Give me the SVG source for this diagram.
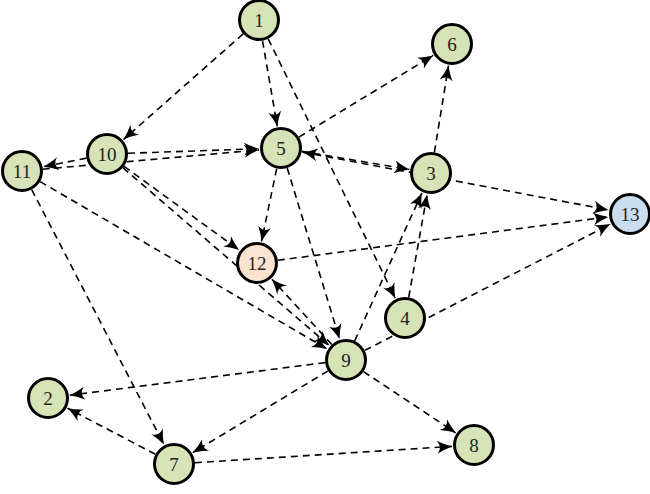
<svg xmlns="http://www.w3.org/2000/svg" width="650" height="494" viewBox="0 0 650 494">
<style>
.e{stroke:#000;stroke-width:1.6;stroke-dasharray:7,5;fill:none;marker-end:url(#ah)}
.n circle{stroke:#000;stroke-width:3;fill:#d5e3b6}
.n text{font-family:"Liberation Serif","DejaVu Serif",serif;font-size:19px;text-anchor:middle;dominant-baseline:central;fill:#222}
</style>
<defs>
<marker id="ah" markerUnits="userSpaceOnUse" markerWidth="18" markerHeight="14" refX="15" refY="7" orient="auto-start-reverse">
<path d="M0,0.5 Q7,4.5 15,7 Q7,9.5 0,13.5 Q6,7 0,0.5 z" fill="#000"/>
</marker>
</defs>
<g id="edges">
<line class="e" x1="243.2" y1="33.9" x2="123.5" y2="139.5"/>
<line class="e" x1="262.5" y1="40.7" x2="277.3" y2="126.3"/>
<line class="e" x1="268.2" y1="38.9" x2="395.3" y2="298.2"/>
<line class="e" x1="128" y1="153.3" x2="259" y2="148.7"/>
<line class="e" x1="86.4" y1="158.1" x2="43.6" y2="166.7"/>
<line class="e" x1="42.9" y1="169.2" x2="259.1" y2="149.9"/>
<line class="e" x1="298.9" y1="137.1" x2="433.2" y2="55.4"/>
<line class="e" x1="301.7" y1="151.4" x2="409.3" y2="169.4"/>
<line class="e" x1="302.6" y1="152.1" x2="608.4" y2="209.9" style="marker-start:url(#ah)"/>
<line class="e" x1="276.7" y1="168.6" x2="261.5" y2="241.5"/>
<line class="e" x1="124" y1="166.3" x2="239.2" y2="250.1"/>
<line class="e" x1="287.2" y1="168.1" x2="339.6" y2="339"/>
<line class="e" x1="122.9" y1="167.7" x2="329.3" y2="345.6"/>
<line class="e" x1="40.1" y1="181.6" x2="327" y2="348.9"/>
<line class="e" x1="331.8" y1="344.5" x2="271.9" y2="279.2"/>
<line class="e" x1="277.8" y1="260.3" x2="608.2" y2="216.9"/>
<line class="e" x1="354.7" y1="340.9" x2="421.9" y2="193"/>
<line class="e" x1="408.7" y1="297.3" x2="427.1" y2="194.6"/>
<line class="e" x1="434.4" y1="152.3" x2="448.5" y2="65.7"/>
<line class="e" x1="364.7" y1="350.4" x2="610.4" y2="224.1"/>
<line class="e" x1="325.2" y1="362.6" x2="69.8" y2="395.2"/>
<line class="e" x1="328" y1="370.9" x2="192.8" y2="452.6"/>
<line class="e" x1="363.5" y1="371.6" x2="455.7" y2="432.8"/>
<line class="e" x1="31.7" y1="189.6" x2="163.9" y2="444.5"/>
<line class="e" x1="155.4" y1="454.3" x2="67.5" y2="408.2"/>
<line class="e" x1="195" y1="462.7" x2="452" y2="446.4"/>
</g>
<g id="n1" class="n"><circle cx="259" cy="20" r="19.5"/><text x="259" y="20">1</text></g>
<g id="n2" class="n"><circle cx="48" cy="398" r="19.5"/><text x="48" y="398">2</text></g>
<g id="n3" class="n"><circle cx="431" cy="173" r="19.5"/><text x="431" y="173">3</text></g>
<g id="n4" class="n"><circle cx="405" cy="318" r="19.5"/><text x="405" y="318">4</text></g>
<g id="n5" class="n"><circle cx="281" cy="148" r="19.5"/><text x="281" y="148">5</text></g>
<g id="n6" class="n"><circle cx="452" cy="44" r="19.5"/><text x="452" y="44">6</text></g>
<g id="n7" class="n"><circle cx="174" cy="464" r="19.5"/><text x="174" y="464">7</text></g>
<g id="n8" class="n"><circle cx="474" cy="445" r="19.5"/><text x="474" y="445">8</text></g>
<g id="n9" class="n"><circle cx="346" cy="360" r="19.5"/><text x="346" y="360">9</text></g>
<g id="n10" class="n"><circle cx="107" cy="154" r="19.5"/><text x="107" y="154">10</text></g>
<g id="n11" class="n"><circle cx="22" cy="171" r="19.5"/><text x="22" y="171">11</text></g>
<g id="n12" class="n"><circle cx="257" cy="263" r="19.5" style="fill:#fbe3cf"/><text x="257" y="263">12</text></g>
<g id="n13" class="n"><circle cx="630" cy="214" r="19.5" style="fill:#c9dcf0"/><text x="630" y="214">13</text></g>
</svg>
